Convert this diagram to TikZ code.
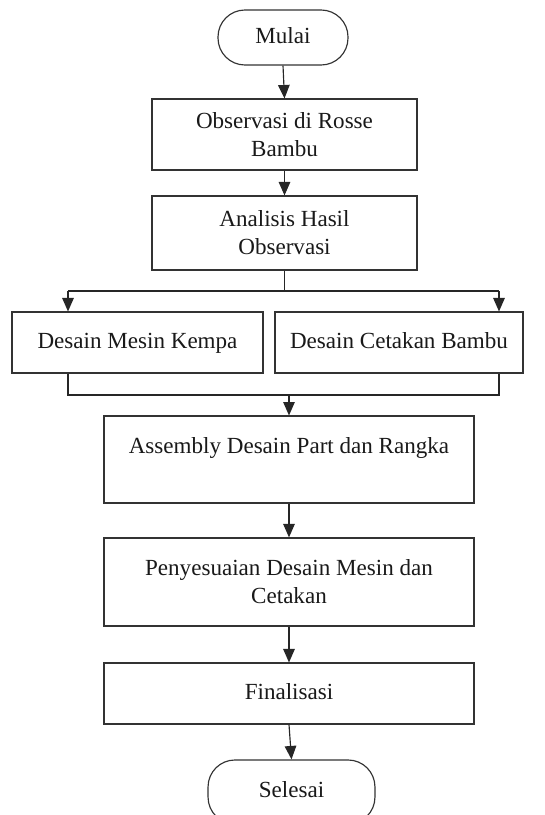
\documentclass[tikz,border=0pt]{standalone}
\usepackage{fontspec}
\setmainfont{Liberation Serif}
\usetikzlibrary{arrows.meta,calc}

\begin{document}
\begin{tikzpicture}[x=0.52pt, y=-0.52pt,
  every node/.style={font=\fontsize{12}{14.5}\selectfont, text=black!90},
  kotak/.style={draw=black!80, line width=0.6pt, align=center, inner sep=0pt},
  satu/.style={kotak, text height=8.5pt, text depth=2.5pt},
  terminal/.style={satu, rounded corners=14pt},
  garis/.style={draw=black!85, line width=0.6pt},
  panah/.style={garis, -{Triangle[length=7pt,width=6pt]}}]
  % page frame
  \useasboundingbox (0,0) rectangle (544,815);
  \clip (0,0) rectangle (544,815);

  % start and first steps
  \node[terminal, minimum width=67.6pt, minimum height=28.6pt] (mulai) at (283,37.5) {Mulai};
  \node[kotak, minimum width=137.8pt, minimum height=36.9pt] (obs) at (284.5,134.5) {Observasi di Rosse\\Bambu};
  \node[kotak, minimum width=137.8pt, minimum height=38.5pt] (ana) at (284.5,233) {Analisis Hasil\\Observasi};

  % two design branches
  \node[satu, minimum width=130.5pt, minimum height=31.7pt] (mesin) at (137.5,342.5) {Desain Mesin Kempa};
  \node[satu, minimum width=129pt, minimum height=31.7pt] (cetak) at (399,342.5) {Desain Cetakan Bambu};

  % final steps
  \node[kotak, minimum width=192.4pt, minimum height=45.2pt] (asm) at (289,459.5) {Assembly Desain Part dan Rangka\\ \mbox{}};
  \node[kotak, minimum width=192.4pt, minimum height=45.8pt] (sesuai) at (289,582) {Penyesuaian Desain Mesin dan\\Cetakan};
  \node[satu, minimum width=192.4pt, minimum height=31.7pt] (final) at (289,693.5) {Finalisasi};
  \node[terminal, minimum width=86.8pt, minimum height=33.3pt] (selesai) at (291.5,792) {Selesai};

  % split and merge points
  \coordinate (pisah) at (284.5,291);
  \coordinate (kiri) at (68,291);
  \coordinate (kanan) at (499,291);
  \coordinate (gabung) at (289,395);

  \draw[panah] (mulai.south) -- (obs.north);
  \draw[panah] (obs.south) -- (ana.north);
  \draw[garis] (ana.south) -- (pisah);
  \draw[garis] (kiri) -- (kanan);
  \draw[panah] (kiri) -- (kiri |- mesin.north);
  \draw[panah] (kanan) -- (kanan |- cetak.north);
  \draw[garis] (kiri |- mesin.south) |- (gabung) -| (kanan |- cetak.south);
  \draw[panah] (gabung) -- (asm.north);
  \draw[panah] (asm.south) -- (sesuai.north);
  \draw[panah] (sesuai.south) -- (final.north);
  \draw[panah] (final.south) -- (selesai.north);
\end{tikzpicture}
\end{document}
